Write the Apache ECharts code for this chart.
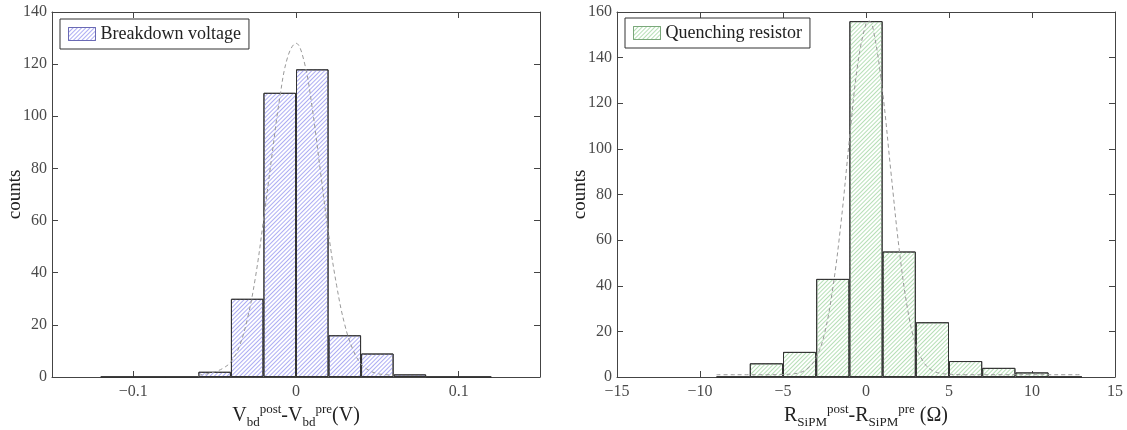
<!DOCTYPE html>
<html><head><meta charset="utf-8">
<script src="https://cdn.jsdelivr.net/npm/echarts@6/dist/echarts.min.js"></script>
<style>html,body{margin:0;padding:0;background:#fff}#c{width:1127px;height:430px}</style>
</head><body><div id="c"></div>
<script>
// ---- Data ----
const vbdBinCenters = [-0.11, -0.09, -0.07, -0.05, -0.03, -0.01, 0.01, 0.03, 0.05, 0.07, 0.09, 0.11];
const vbdCounts     = [0, 0, 0, 2, 30, 109, 118, 16, 9, 1, 0, 0];
const vbdFitX = [-0.06, -0.055, -0.05, -0.045, -0.04, -0.035, -0.03, -0.025, -0.02, -0.015, -0.01, -0.005, 0, 0.005, 0.01, 0.015, 0.02, 0.025, 0.03, 0.035, 0.04, 0.045, 0.05, 0.055, 0.06];
const vbdFitY = [0.7, 1.2, 2.0, 3.3, 5.8, 11.5, 22, 38, 60, 84, 107, 123, 128, 121, 103, 79, 55, 35, 20, 10.5, 5, 2.5, 1.3, 0.9, 0.7];
const vbdTicks = [-0.1, 0, 0.1];

const rqBinCenters = [-8, -6, -4, -2, 0, 2, 4, 6, 8, 10, 12];
const rqCounts     = [0, 6, 11, 43, 156, 55, 24, 7, 4, 2, 0];
const rqFitX = [-9, -8, -7, -6, -5, -4.5, -4, -3.5, -3, -2.5, -2, -1.5, -1, -0.5, 0, 0.2, 0.5, 1, 1.5, 2, 2.5, 3, 3.5, 4, 4.5, 5, 6, 8, 10, 12, 13];
const rqFitY = [1.0, 1.0, 1.0, 1.0, 1.1, 1.3, 1.9, 3.8, 8.5, 19, 39, 68, 104, 137, 155, 156, 150, 125, 90, 56, 30, 14, 6.2, 2.8, 1.6, 1.2, 1.0, 1.0, 1.0, 1.0, 1.0];

const legendNames = ['Breakdown voltage', 'Quenching resistor'];
// ---------------------------------------------------

const zip = (a, b) => a.map((v, i) => [v, b[i]]);
const FONT = '"Liberation Serif", "Times New Roman", serif';
const AX = '#444';
const TXT = '#222';
const minusFmt = v => String(v).replace('-', '\u2212');

function richName() {
  return {
    fontFamily: FONT, color: TXT,
    rich: {
      m:   { fontFamily: FONT, color: TXT, fontSize: 20, lineHeight: 26, verticalAlign: 'middle' },
      sub: { fontFamily: FONT, color: TXT, fontSize: 13, lineHeight: 12, verticalAlign: 'bottom' },
      sup: { fontFamily: FONT, color: TXT, fontSize: 13, lineHeight: 12, verticalAlign: 'top' }
    }
  };
}

function xAx(gi, pos, min, max, opts) {
  const main = pos === 'bottom';
  const a = {
    type: 'value', gridIndex: gi, position: pos, min: min, max: max,
    axisLine: { show: true, onZero: false, lineStyle: { color: AX, width: 1 } },
    axisTick: { show: true, inside: true, length: 6, lineStyle: { color: AX } },
    axisLabel: { show: main, fontFamily: FONT, fontSize: 16, color: '#4a4a4a', margin: 7, formatter: minusFmt },
    splitLine: { show: false },
    nameMoveOverlap: false
  };
  return Object.assign(a, opts || {});
}
function yAx(gi, pos, max, opts) {
  const main = pos === 'left';
  const a = {
    type: 'value', gridIndex: gi, position: pos, min: 0, max: max, interval: 20,
    axisLine: { show: true, onZero: false, lineStyle: { color: AX, width: 1 } },
    axisTick: { show: true, inside: true, length: 6, lineStyle: { color: AX } },
    axisLabel: { show: main, fontFamily: FONT, fontSize: 16, color: '#4a4a4a', margin: 5 },
    splitLine: { show: false },
    nameMoveOverlap: false
  };
  if (main) {
    a.name = 'counts'; a.nameLocation = 'middle'; a.nameGap = 27;
    a.nameTextStyle = { fontFamily: FONT, fontSize: 19, color: TXT };
  }
  return Object.assign(a, opts || {});
}

const leftX = xAx(0, 'bottom', -0.15, 0.15, {
  name: '{m|V}{sub|bd}{sup|post}{m|-V}{sub|bd}{sup|pre}{m|(V)}',
  nameLocation: 'middle', nameGap: 26, nameTextStyle: richName()
});
leftX.axisTick.customValues = vbdTicks;
leftX.axisLabel.customValues = vbdTicks;
const leftXTop = xAx(0, 'top', -0.15, 0.15);
leftXTop.axisTick.customValues = vbdTicks;

const rightX = xAx(1, 'bottom', -15, 15, {
  interval: 5,
  name: '{m|R}{sub|SiPM}{sup|post}{m|-R}{sub|SiPM}{sup|pre}{m| (\u03A9)}',
  nameLocation: 'middle', nameGap: 26, nameTextStyle: richName()
});
const rightXTop = xAx(1, 'top', -15, 15, { interval: 5 });

function hatch(color) {
  return { symbol: 'rect', symbolSize: 1, color: color, backgroundColor: 'rgba(0,0,0,0)',
           dashArrayX: [1, 0], dashArrayY: [1, 2], rotation: -Math.PI / 4 };
}
const blueHatch = hatch('#adadf3');
const greenHatch = hatch('#b6dfb6');

function legendCfg(name, left, top, border, decal) {
  return {
    data: [{ name: name, icon: 'rect', itemStyle: { color: '#fff', borderColor: border, borderWidth: 1, decal: decal } }],
    left: left, top: top, orient: 'horizontal', selectedMode: false,
    padding: [6, 8, 6, 8], itemWidth: 27, itemHeight: 13,
    borderColor: '#333', borderWidth: 1, backgroundColor: '#fff', borderRadius: 0,
    textStyle: { fontFamily: FONT, fontSize: 18, color: TXT }
  };
}

const chart = echarts.init(document.getElementById('c'), null, { renderer: 'canvas' });
chart.setOption({
  animation: false,
  backgroundColor: '#fff',
  grid: [
    { left: 52, right: 587, top: 12, bottom: 53, containLabel: false, outerBoundsMode: 'none' },
    { left: 617, right: 12, top: 12, bottom: 53, containLabel: false, outerBoundsMode: 'none' }
  ],
  legend: [
    legendCfg(legendNames[0], 60, 19, '#6a6ab4', blueHatch),
    legendCfg(legendNames[1], 625, 18, '#7aa87a', greenHatch)
  ],
  xAxis: [leftX, leftXTop, rightX, rightXTop],
  yAxis: [yAx(0, 'left', 140), yAx(0, 'right', 140), yAx(1, 'left', 160), yAx(1, 'right', 160)],
  series: [
    {
      type: 'bar', name: legendNames[0], xAxisIndex: 0, yAxisIndex: 0,
      data: zip(vbdBinCenters, vbdCounts), barWidth: '100%',
      itemStyle: { color: '#fff', borderColor: '#333', borderWidth: 1, decal: blueHatch },
      emphasis: { disabled: true }
    },
    {
      type: 'line', name: 'fit1', xAxisIndex: 0, yAxisIndex: 0,
      data: zip(vbdFitX, vbdFitY), smooth: 0.4, showSymbol: false, symbol: 'none',
      lineStyle: { type: [4, 3], color: '#999', width: 1 }, z: 5, silent: true
    },
    {
      type: 'bar', name: legendNames[1], xAxisIndex: 2, yAxisIndex: 2,
      data: zip(rqBinCenters, rqCounts), barWidth: '100%',
      itemStyle: { color: '#fff', borderColor: '#333', borderWidth: 1, decal: greenHatch },
      emphasis: { disabled: true }
    },
    {
      type: 'line', name: 'fit2', xAxisIndex: 2, yAxisIndex: 2,
      data: zip(rqFitX, rqFitY), smooth: 0.4, showSymbol: false, symbol: 'none',
      lineStyle: { type: [4, 3], color: '#999', width: 1 }, z: 5, silent: true
    }
  ]
});
</script>
</body></html>
